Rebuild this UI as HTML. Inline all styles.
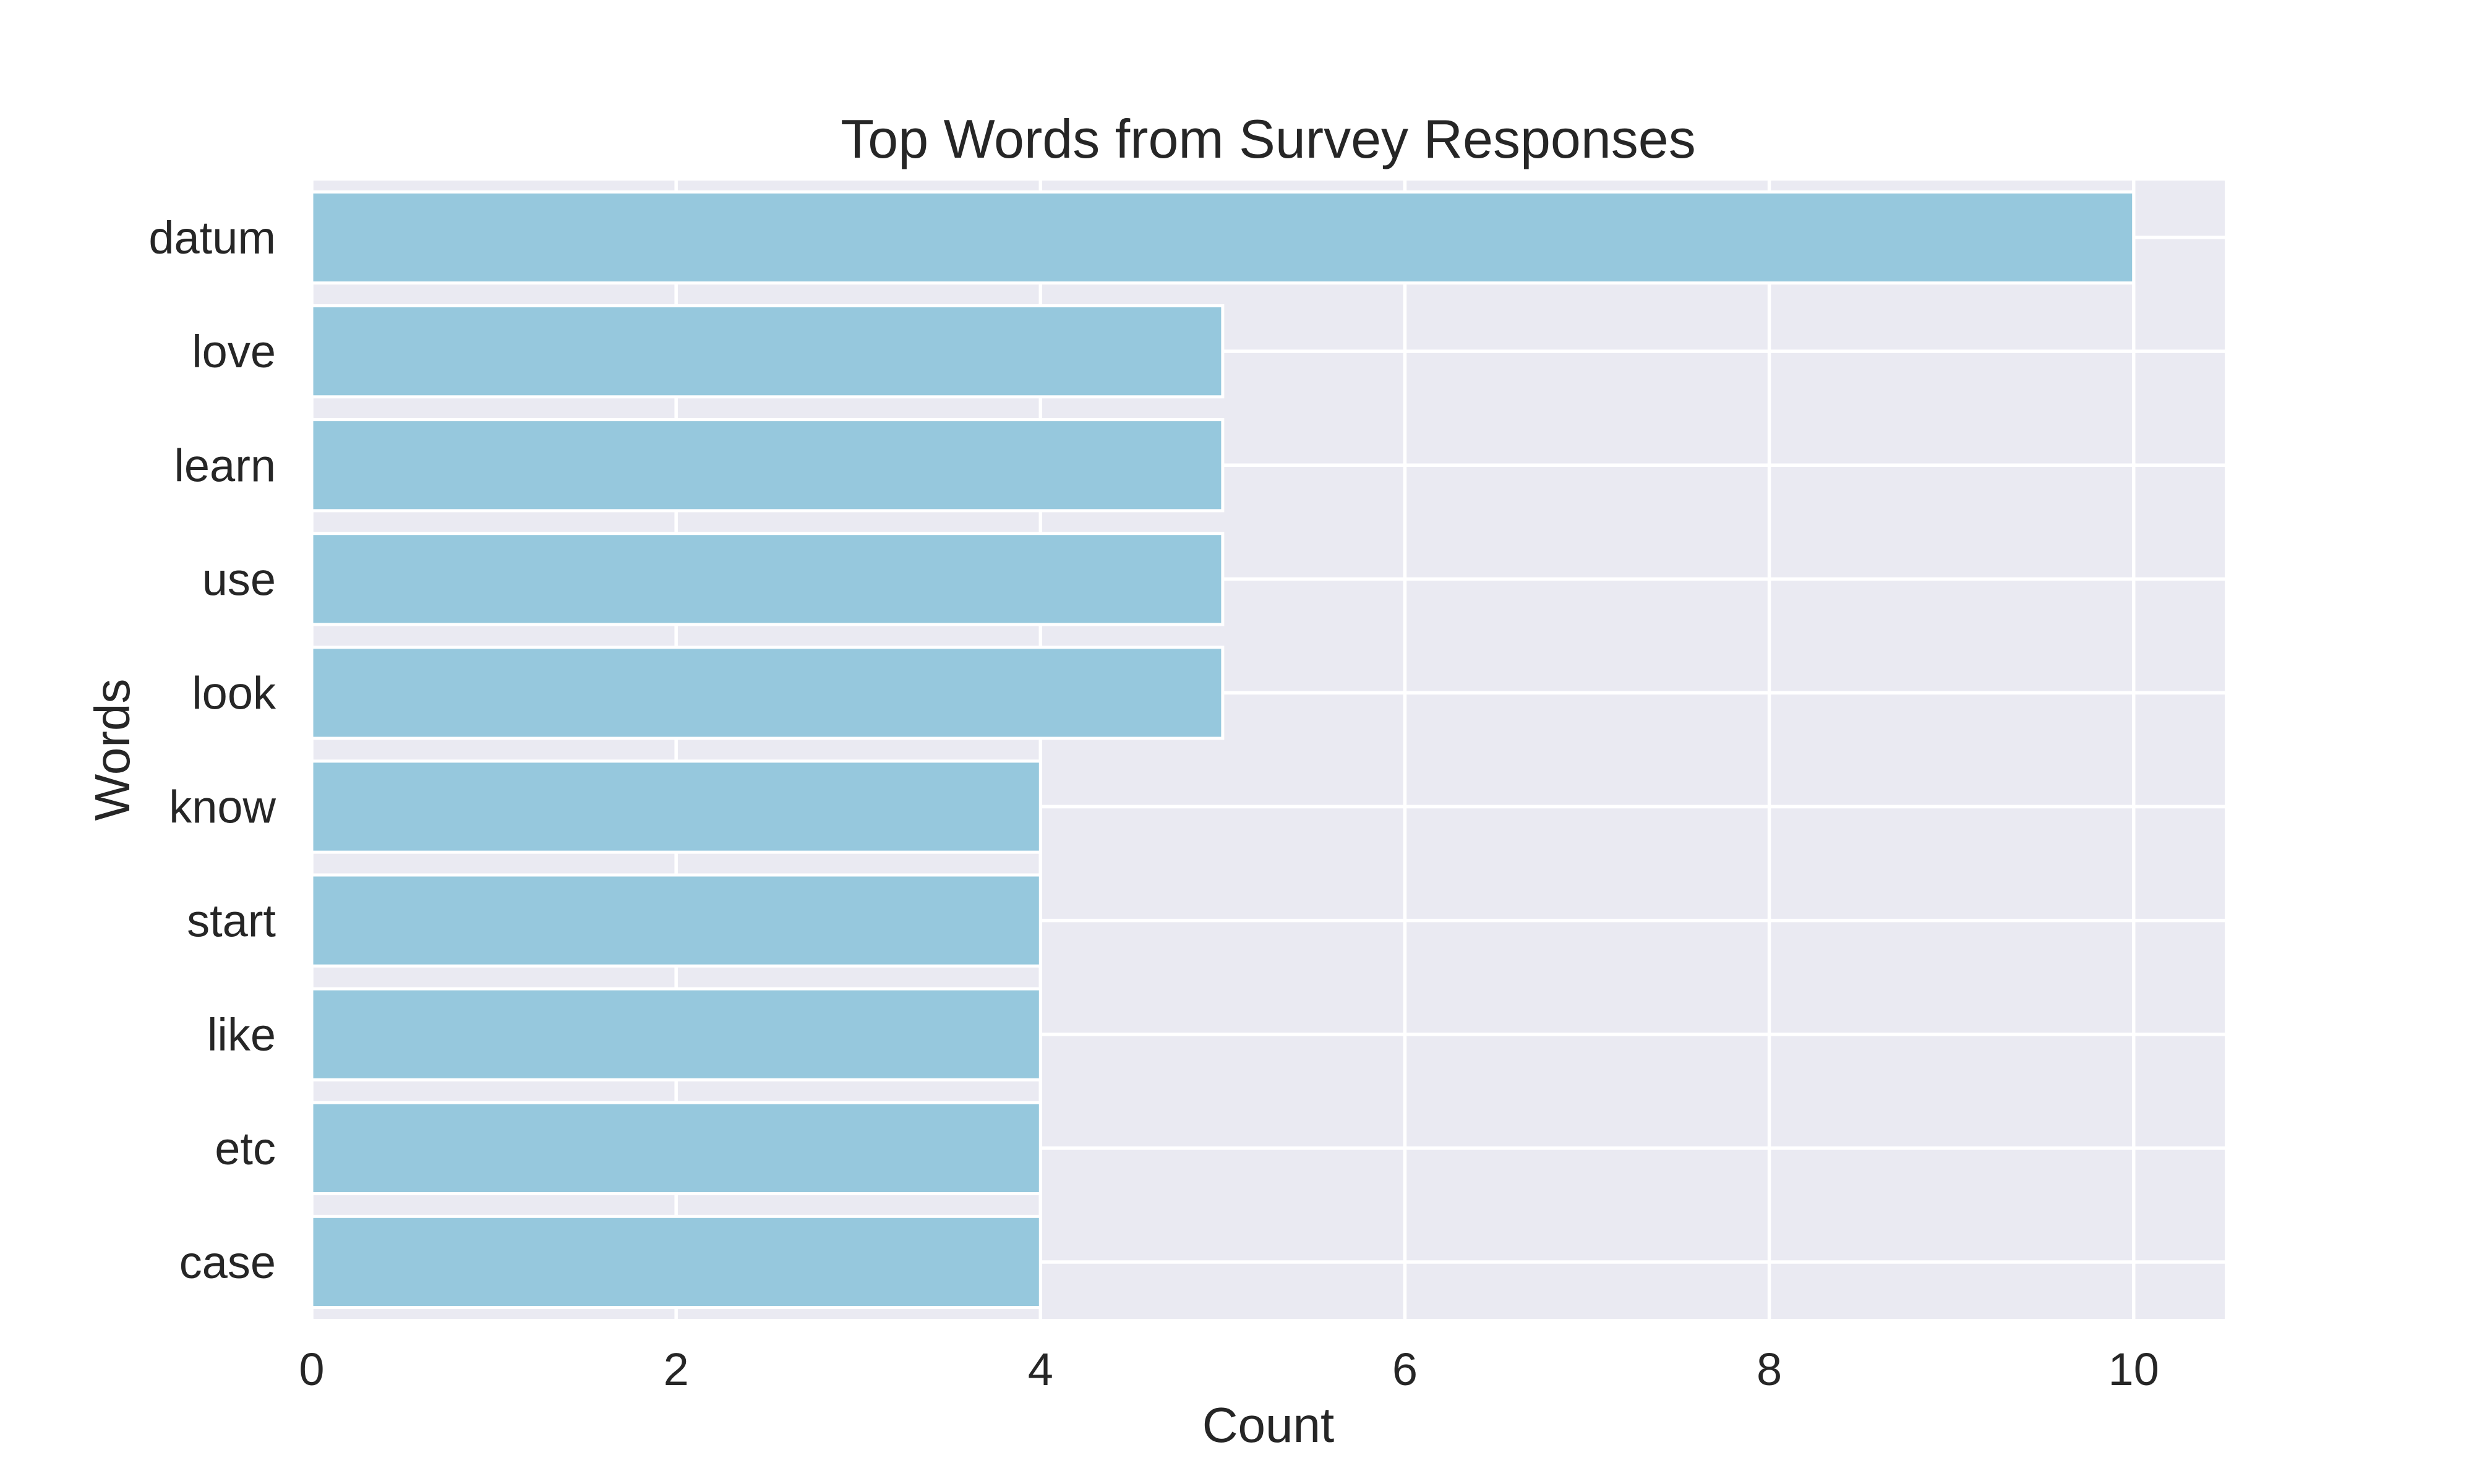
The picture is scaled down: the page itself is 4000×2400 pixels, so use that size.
<!DOCTYPE html>
<html><head><meta charset="utf-8"><style>
html,body{margin:0;padding:0;background:#fff;}
svg{display:block;font-family:"Liberation Sans",Arial,sans-serif;}
</style></head><body>
<svg id="chart" width="4000" height="2400" viewBox="0 0 4000 2400"></svg>
<script>
const categories = ["datum","love","learn","use","look","know","start","like","etc","case"];
const counts = [10,5,5,5,5,4,4,4,4,4];
const xTicks = [0,2,4,6,8,10];
const xTickLabels = ["0","2","4","6","8","10"];

const L=504,R=3597,T=292,B=2133;
const xMin=0,xMax=10.5;
const NS="http://www.w3.org/2000/svg";
const svg=document.getElementById('chart');
function x(v){return L+(v-xMin)/(xMax-xMin)*(R-L);}
const band=(B-T)/categories.length;
function yc(i){return T+band*(i+0.5);}
function mk(tag,attrs,parent){const e=document.createElementNS(NS,tag);for(const k in attrs)e.setAttribute(k,attrs[k]);(parent||svg).appendChild(e);return e;}

const bg=mk('rect',{x:L,y:T,width:R-L,height:B-T,fill:'#EAEAF2'});



xTicks.forEach((t,i)=>{
  const g=mk('line',{x1:x(t),x2:x(t),y1:T,y2:B,stroke:'#fff','stroke-width':5.5});
  
  
  const tx=mk('text',{x:x(t),y:2240,'font-size':74,'text-anchor':'middle',fill:'#262626'});
  tx.textContent=xTickLabels[i];
  
  
});
categories.forEach((c,i)=>{
  const g=mk('line',{x1:L,x2:R,y1:yc(i),y2:yc(i),stroke:'#fff','stroke-width':5.5});
  
  
});
categories.forEach((c,i)=>{
  const h=band*0.8;
  const r=mk('rect',{x:x(0),y:yc(i)-h/2,width:x(counts[i])-x(0),height:h,fill:'#96C8DD',stroke:'#fff','stroke-width':5});
  
  
  const t=mk('text',{x:446,y:yc(i)+26,'font-size':74,'text-anchor':'end',fill:'#262626'});
  t.textContent=c;
  
  
});
const title=mk('text',{x:(L+R)/2,y:255,'font-size':88,'text-anchor':'middle',fill:'#262626'});
title.textContent='Top Words from Survey Responses';


const xl=mk('text',{x:(L+R)/2,y:2332,'font-size':80,'text-anchor':'middle',fill:'#262626'});
xl.textContent='Count';


const yl=mk('text',{x:209,y:(T+B)/2,'font-size':80,'text-anchor':'middle',fill:'#262626',transform:'rotate(-90 209 '+((T+B)/2)+')'});
yl.textContent='Words';


</script>
</body></html>
